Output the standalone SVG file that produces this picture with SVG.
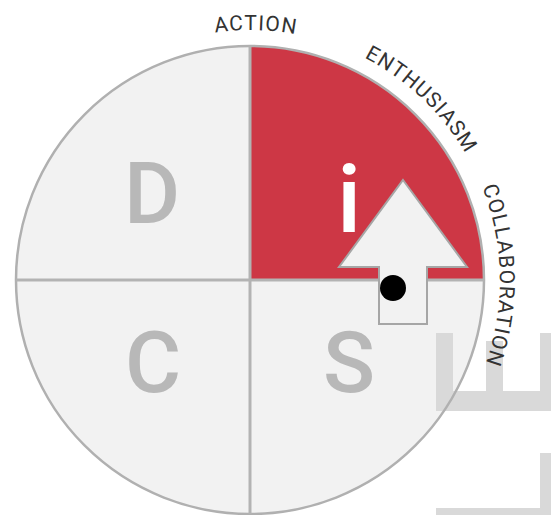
<svg xmlns="http://www.w3.org/2000/svg" width="551" height="515" viewBox="0 0 551 515">
  <style>
    .q { fill: #f2f2f2; }
    .red { fill: #cd3745; }
    .div { stroke: #b3b3b3; stroke-width: 3; fill: none; }
    .rim { stroke: #b0b0b0; stroke-width: 2.5; fill: none; }
    .big { font-family: Roboto, "Liberation Sans", sans-serif; font-size: 86px; font-weight: 500; fill: #b8b8b8; text-anchor: middle; }
    .lab { font-family: Roboto, "Liberation Sans", sans-serif; font-size: 21px; fill: #333333; letter-spacing: 1.2px; }
    .deco { fill: #d9d9d9; }
  </style>
  <defs>
    <path id="arc" d="M164.5,45.1 A250,250 0 0,1 441.5,440.7"/>
  </defs>
  <rect width="551" height="515" fill="#ffffff"/>
  <g id="disc">
    <circle class="q" cx="250" cy="280" r="234"/>
    <path class="red" d="M250,280 L250,46 A234,234 0 0,1 484,280 Z"/>
  </g>
  <g id="decor">
    <rect class="deco" x="436" y="333" width="17" height="78"/>
    <rect class="deco" x="436" y="391" width="115" height="20"/>
    <rect class="deco" x="486" y="341" width="17" height="50"/>
    <rect class="deco" x="540" y="333" width="11" height="58"/>
    <rect class="deco" x="540" y="453" width="11" height="62"/>
    <rect class="deco" x="436" y="508" width="115" height="7"/>
  </g>
  <g id="outline">
    <circle class="rim" cx="250" cy="280" r="234"/>
    <line class="div" x1="250" y1="46" x2="250" y2="514"/>
    <line class="div" x1="16" y1="280" x2="484" y2="280"/>
  </g>
  <g id="node-D"><text class="big" x="152" y="223">D</text></g>
  <g id="node-C"><text class="big" x="153" y="392">C</text></g>
  <g id="node-S"><text class="big" x="349" y="392">S</text></g>
  <g id="node-i"><text class="big" x="349" y="232" style="font-size:95px;fill:#ffffff">i</text></g>
  <g id="connectors">
    <polygon points="403,180 467,267 427,267 427,324 379,324 379,267 339,267" fill="#f2f2f2" stroke="#a6a6a6" stroke-width="2"/>
    <circle cx="393" cy="288" r="13" fill="#000000"/>
  </g>
  <g id="labels">
    <text class="lab" text-anchor="middle"><textPath href="#arc" startOffset="93">ACTION</textPath></text>
    <text class="lab" text-anchor="middle"><textPath href="#arc" startOffset="277">ENTHUSIASM</textPath></text>
    <text class="lab" text-anchor="middle"><textPath href="#arc" startOffset="475">COLLABORATION</textPath></text>
  </g>
</svg>
